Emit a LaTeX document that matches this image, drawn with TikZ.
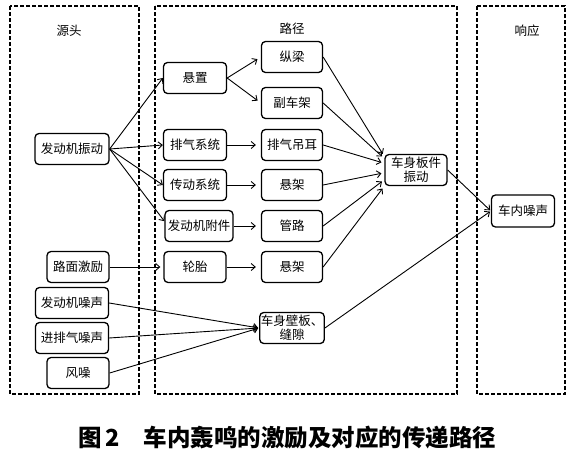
\documentclass[tikz,border=0pt]{standalone}
\usepackage{fontspec}
\newfontfamily\cjk{Noto Sans CJK SC}
\usetikzlibrary{arrows.meta}
\begin{document}
\begin{tikzpicture}[x=1pt, y=-1pt, every node/.style={font=\cjk\fontsize{12.5}{14}\selectfont},
    zone/.style={draw, line width=1.2pt, dash pattern=on 4pt off 2pt},
    box/.style={draw, rounded corners=4pt, line width=1.3pt, minimum height=31pt, minimum width=62pt, inner sep=2pt, align=center},
    arr/.style={-{Straight Barb[length=4pt,width=7pt]}, line width=0.9pt, shorten >=3pt}]
    \useasboundingbox (0,0) rectangle (576,455);
    % three regions
    \draw[zone] (10,6) rectangle (139,394);
    \draw[zone] (155,6) rectangle (457,394);
    \draw[zone] (477,6) rectangle (565,394);
    \node (tsrc) at (69,31) {源头};
    \node (tpath) at (292,29) {路径};
    \node (tresp) at (527,31) {响应};

    % sources
    \node[box, minimum width=74pt] (fdzd) at (72,149) {发动机振动};
    \node[box] (lmjl) at (78,267) {路面激励};
    \node[box, minimum width=73pt] (fdzs) at (72,303) {发动机噪声};
    \node[box, minimum width=73pt] (jpzs) at (72,338) {进排气噪声};
    \node[box] (fzao) at (78,373) {风噪};

    % first path column
    \node[box, minimum width=63pt] (xzhi) at (195,78) {悬置};
    \node[box, minimum width=63pt] (pqxt) at (195,145) {排气系统};
    \node[box, minimum width=63pt] (cdxt) at (195,185) {传动系统};
    \node[box, minimum width=68pt] (fdfj) at (199,226) {发动机附件};
    \node[box] (ltai) at (195,267) {轮胎};

    % second path column
    \node[box, minimum width=61pt] (zlia) at (292,57) {纵梁};
    \node[box, minimum width=61pt] (fcj) at (292,103) {副车架};
    \node[box, minimum width=61pt] (pqde) at (292,145) {排气吊耳};
    \node[box, minimum width=61pt] (xjia) at (292,185) {悬架};
    \node[box, minimum width=61pt] (glu) at (292,226) {管路};
    \node[box, minimum width=61pt] (xjib) at (292,267) {悬架};
    \node[box, inner sep=1pt] (bwfx) at (292,328) {车身壁板、\\缝隙};
    \node[box, inner sep=1pt] (cszd) at (416,170) {车身板件\\振动};

    % response
    \node[box, minimum width=63pt, minimum height=32pt] (cnzs) at (523,211) {车内噪声};

    % engine vibration
    \draw[arr, shorten >=0pt] (fdzd.east) -- (xzhi.west);
    \draw[arr, shorten >=0pt] (fdzd.east) -- (pqxt.west);
    \draw[arr, shorten >=0pt] (fdzd.east) -- (cdxt.west);
    \draw[arr, shorten >=0pt] (fdzd.east) -- (fdfj.172);
    \draw[arr] (lmjl.east) -- (ltai.west);

    \draw[arr, shorten >=4pt] (xzhi.east) -- (zlia.west);
    \draw[arr, shorten >=4pt] (xzhi.east) -- (fcj.west);
    \draw[arr, shorten >=5pt] (pqxt.east) -- (pqde.west);
    \draw[arr, shorten >=5pt] (cdxt.east) -- (xjia.west);
    \draw[arr, shorten >=5pt] (fdfj.east) -- (glu.west);
    \draw[arr, shorten >=5pt] (ltai.east) -- (xjib.west);

    % into body panel vibration
    \draw[arr] (zlia.east) -- (cszd.157);
    \draw[arr] (fcj.east) -- (cszd.160);
    \draw[arr] (pqde.east) -- (cszd.168);
    \draw[arr] (xjia.east) -- (cszd.185);
    \draw[arr] (glu.east) -- (cszd.197);
    \draw[arr] (xjib.east) -- (cszd.207);

    % airborne noise
    \draw[arr, shorten >=1pt] (fdzs.east) -- (bwfx.west);
    \draw[arr, shorten >=1pt] (jpzs.east) -- (bwfx.west);
    \draw[arr, shorten >=1pt] (fzao.east) -- (bwfx.west);

    \draw[arr, shorten >=1pt] (cszd.east) -- (cnzs.west);
    \draw[arr, shorten >=1pt] (bwfx.east) -- (cnzs.west);

    \node[font=\cjk\bfseries\fontsize{23.5}{26}\selectfont, anchor=west, inner sep=0pt] (capt) at (78,438) {图\,2\hspace{24pt}车内轰鸣的激励及对应的传递路径};
\end{tikzpicture}
\end{document}
